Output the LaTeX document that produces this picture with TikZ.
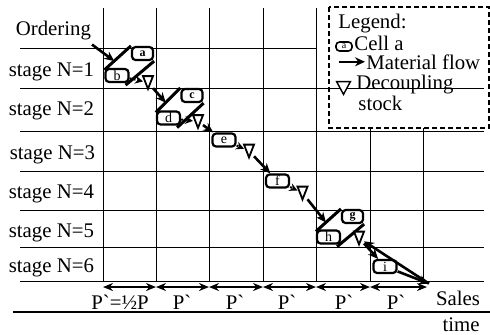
\documentclass[tikz,border=0pt]{standalone}
\usepackage{fontspec}
\setmainfont{Liberation Serif}
\usetikzlibrary{arrows.meta,positioning,backgrounds}

\begin{document}
\begin{tikzpicture}[x=0.5pt, y=-0.5pt,
  font=\fontsize{10.4}{12}\selectfont,
  grid/.style={line width=0.5pt},
  cell/.style={draw, rounded corners=1.8pt, line width=1.1pt, fill=white, inner sep=0pt,
    minimum width=11.5pt, minimum height=6.5pt, font=\fontsize{7}{7}\selectfont},
  boldcell/.style={cell, minimum width=10.5pt, font=\fontsize{6}{6}\selectfont\bfseries},
  slab/.style={line width=1.5pt},
  stock/.style={inner sep=0pt, minimum width=4.6pt, minimum height=6pt},
  stockline/.style={draw, fill=white, line width=0.9pt, line join=miter},
  flow/.style={line width=1.3pt, -{Stealth[length=5pt,width=4.5pt]}},
  feed/.style={line width=1pt, densely dotted, -{Stealth[length=4pt,width=4pt]}},
  period/.style={line width=1.3pt, {Stealth[length=5pt,width=4pt]}-{Stealth[length=5pt,width=4pt]}},
  stagelabel/.style={anchor=base east},
  legendtext/.style={anchor=base west, inner sep=0.5pt},
  legendbox/.style={line width=1pt, dash pattern=on 2.5pt off 1.5pt},
]
\useasboundingbox (0,0) rectangle (490,334);

% cells
\node[boldcell] (a) at (142.5,53.5) {a};
\node[cell] (b) at (117,75.5) {b};
\node[boldcell] (c) at (192,95.5) {c};
\node[cell] (d) at (168.5,118) {d};
\node[cell] (e) at (224,140) {e};
\node[cell] (f) at (277.5,181) {f};
\node[boldcell] (g) at (352.5,216.5) {g};
\node[cell] (h) at (328.5,237) {h};
\node[cell] (i) at (385,266.5) {i};

% decoupling stocks
\node[stock] (s1) at (148,82.5) {};
\node[stock] (s2) at (198,121.5) {};
\node[stock] (s3) at (249,151) {};
\node[stock] (s4) at (302.5,193) {};
\node[stock] (s5) at (359,238) {};

\begin{pgfonlayer}{background}
  % grid
  \draw[grid] (103,8) -- (103,281);
  \draw[grid] (156,8) -- (156,281);
  \draw[grid] (209,8) -- (209,281);
  \draw[grid] (263,8) -- (263,281);
  \draw[grid] (316,8) -- (316,281);
  \draw[grid] (370,128) -- (370,281);
  \draw[grid] (423,128) -- (423,281);
  \draw[grid] (20,48) -- (316,48);
  \draw[grid] (20,88) -- (484,88);
  \draw[grid] (20,131) -- (484,131);
  \draw[grid] (20,171) -- (484,171);
  \draw[grid] (20,210) -- (484,210);
  \draw[grid] (20,247) -- (484,247);
  \draw[grid] (20,281) -- (484,281);
  % slanted cell pairs
  \draw[slab] ([yshift=-1pt]b.north west) -- coordinate[pos=0.37] (abin) (a.north west);
  \draw[slab] (a.south east) -- ([xshift=-2pt,yshift=-1pt]b.south east);
  \draw[slab] ([yshift=-1pt]d.north west) -- coordinate[pos=0.4] (cdin) (c.north west);
  \draw[slab] (c.south east) -- ([xshift=-2pt,yshift=-1pt]d.south east);
  \draw[slab] ([yshift=-1pt]h.north west) -- coordinate[pos=0.4] (ghin) (g.north west);
  \draw[slab] (g.south east) -- ([xshift=-2pt,yshift=-1pt]h.south east);
\end{pgfonlayer}

% stage labels
\node[stagelabel] at (101,76) {stage N=1};
\node[stagelabel] at (101,115) {stage N=2};
\node[stagelabel] at (102,159) {stage N=3};
\node[stagelabel] at (101,198) {stage N=4};
\node[stagelabel] at (101,237) {stage N=5};
\node[stagelabel] at (101,272) {stage N=6};

% order and sales
\node[anchor=base east] (order) at (98,35) {Ordering};
\node (sales) at (458,298) {Sales};
\node[anchor=base] (time) at (461,331) {time};
\draw[line width=1.2pt] (13,312) -- (490,312);

% material flow
\draw[flow] ([xshift=-3pt,yshift=1pt]order.south east) -- (abin);
\draw[feed] (b) -- (s1);
\draw[flow] (s1) -- (cdin);
\draw[feed] (d) -- (s2);
\draw[flow] (s2) -- (e);
\draw[feed] (e) -- (s3);
\draw[flow] (s3) -- (f);
\draw[feed] (f) -- (s4);
\draw[flow] (s4) -- (ghin);
\draw[flow] (s5) -- (i);
\draw[flow, {Stealth[length=5pt,width=4.5pt]}-] (s5) -- (sales.north west);
\draw[flow] (i) -- (sales.north west);

% periods
\coordinate (p0) at (103,287);
\coordinate (p1) at (156,287);
\coordinate (p2) at (209,287);
\coordinate (p3) at (263,287);
\coordinate (p4) at (316,287);
\coordinate (p5) at (370,287);
\coordinate (p6) at (427,287);
\draw[period] (p0) -- (p1);
\draw[period] (p1) -- (p2);
\draw[period] (p2) -- (p3);
\draw[period] (p3) -- (p4);
\draw[period] (p4) -- (p5);
\draw[period] (p5) -- (p6);
\node[anchor=base] at (120,309) {P\textasciigrave=½P};
\node[anchor=base] at (182,309) {P\textasciigrave};
\node[anchor=base] at (235,309) {P\textasciigrave};
\node[anchor=base] at (287,309) {P\textasciigrave};
\node[anchor=base] at (344,309) {P\textasciigrave};
\node[anchor=base] at (396,309) {P\textasciigrave};

% legend
\draw[legendbox] (329,7) rectangle (489,128);
\node[legendtext] (legtitle) at (337,28) {Legend:};
\node[cell, minimum width=8pt, minimum height=4.5pt, line width=0.8pt,
      font=\fontsize{5}{5}\selectfont] (legcell) at (344,46.5) {a};
\node[legendtext] (legcelltext) at (353,50) {Cell a};
\node[legendtext] (legflow) at (365,69) {Material flow};
\coordinate (legflowa) at ([xshift=-13pt]legflow.west);
\draw[flow, line width=1pt] (legflowa) -- (legflow.west);
\node[stock, minimum width=6.5pt] (legstock) at (343.5,88) {};
\node[legendtext] (legstocktext) at (355,89) {Decoupling};
\node[legendtext] (legstocktextb) at ([xshift=1pt,yshift=-10.5pt]legstocktext.base west) {stock};

% stock triangles
\foreach \s in {s1,s2,s3,s4,s5}
  \draw[stockline] (\s.north west) -- (\s.north east) -- (\s.south) -- cycle;
\draw[stockline, line width=0.7pt] (legstock.north west) -- (legstock.north east) -- (legstock.south) -- cycle;
\end{tikzpicture}
\end{document}
